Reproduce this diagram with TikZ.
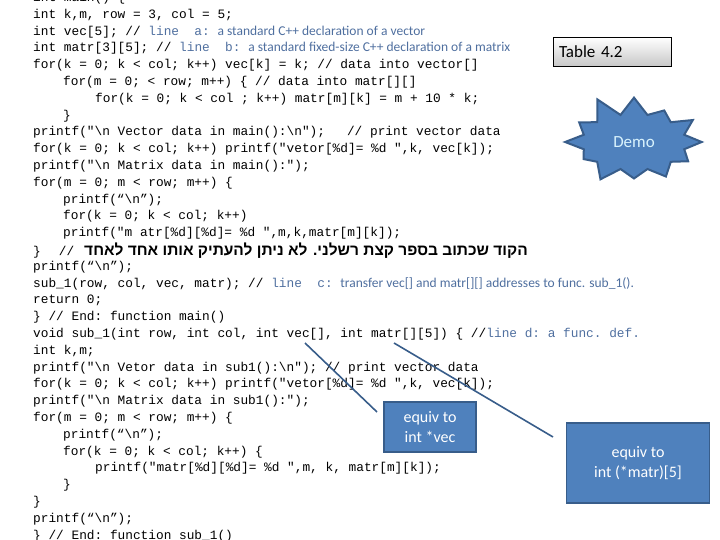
\documentclass[tikz,border=0pt]{standalone}
\usepackage{fontspec}
\setmonofont{Liberation Mono}
\setmainfont{Carlito}
\newfontfamily\hebfont[Script=Hebrew]{Liberation Sans}
\TeXXeTstate=1
\usetikzlibrary{shapes.symbols}
\definecolor{cmt}{HTML}{4F6F9F}
\definecolor{bfill}{HTML}{4F81BD}
\definecolor{bdraw}{HTML}{385D8A}
\newcommand{\bs}{\textbackslash}
\newcommand{\cm}[1]{{\color{cmt}#1}}
\newcommand{\cs}[1]{{\color{cmt}\rmfamily\fontsize{13.5}{15}\selectfont #1}}
\begin{document}
\begin{tikzpicture}[x=1pt,y=-1pt,
  code/.style={anchor=west,inner sep=0pt,font=\ttfamily\fontsize{12.8}{15}\selectfont},
  bluebox/.style={draw=bdraw,line width=1.5pt,fill=bfill,text=white,font=\fontsize{16}{20}\selectfont,align=center,inner sep=0pt},
  link/.style={draw=bdraw,line width=1.6pt}]
\useasboundingbox (0,0) rectangle (720,540);
\newcommand{\Ln}[4]{\node[code] (#1) at (#2,{-1.8+16.8*#3}) {#4};}
\Ln{l0}{33}{0}{int main() \{}
\Ln{l1}{33}{1}{int k,m, row = 3, col = 5;}
\Ln{l2}{33}{2}{int vec[5]; // \cm{line\ \ a:}\ \cs{a standard C++ declaration of a vector}}
\Ln{l3}{33}{3}{int matr[3][5]; // \cm{line\ \ b:}\ \cs{a standard fixed-size C++ declaration of a matrix}}
\Ln{l4}{33}{4}{for(k = 0; k < col; k++) vec[k] = k; // data into vector[]}
\Ln{l5}{63}{5}{for(m = 0; < row; m++) \{ // data into matr[][]}
\Ln{l6}{95}{6}{for(k = 0; k < col ; k++) matr[m][k] = m + 10 * k;}
\Ln{l7}{63}{7}{\}}
\Ln{l8}{33}{8}{printf("\bs n Vector data in main():\bs n");\hspace{22pt}// print vector data}
\Ln{l9}{33}{9}{for(k = 0; k < col; k++) printf("vetor[\%d]= \%d ",k, vec[k]);}
\Ln{l10}{33}{10}{printf("\bs n Matrix data in main():");}
\Ln{l11}{33}{11}{for(m = 0; m < row; m++) \{}
\Ln{l12}{63}{12}{printf(“\bs n”);}
\Ln{l13}{63}{13}{for(k = 0; k < col; k++)}
\Ln{l14}{63}{14}{printf("m atr[\%d][\%d]= \%d ",m,k,matr[m][k]);}
\Ln{l15}{33}{15}{\}\hspace{18pt}//\hspace{10pt}{\hebfont\bfseries\fontsize{15.5}{17}\selectfont\beginR הקוד שכתוב בספר קצת רשלני. לא ניתן להעתיק אותו אחד לאחד\endR}}
\Ln{l16}{33}{16}{printf(“\bs n”);}
\Ln{l17}{33}{17}{sub\_1(row, col, vec, matr); // \cm{line\ \ c:}\ \cs{transfer vec[] and matr[][] addresses to func. sub\_1().}}
\Ln{l18}{33}{18}{return 0;}
\Ln{l19}{33}{19}{\} // End: function main()}
\Ln{l20}{33}{20}{void sub\_1(int row, int col, int vec[], int matr[][5]) \{ //\cm{line d: a func. def.}}
\Ln{l21}{33}{21}{int k,m;}
\Ln{l22}{33}{22}{printf("\bs n Vetor data in sub1():\bs n"); // print vector data}
\Ln{l23}{33}{23}{for(k = 0; k < col; k++) printf("vetor[\%d]= \%d ",k, vec[k]);}
\Ln{l24}{33}{24}{printf("\bs n Matrix data in sub1():");}
\Ln{l25}{33}{25}{for(m = 0; m < row; m++) \{}
\Ln{l26}{63}{26}{printf(“\bs n”);}
\Ln{l27}{63}{27}{for(k = 0; k < col; k++) \{}
\Ln{l28}{95}{28}{printf("matr[\%d][\%d]= \%d ",m, k, matr[m][k]);}
\Ln{l29}{63}{29}{\}}
\Ln{l30}{33}{30}{\}}
\Ln{l31}{33}{31}{printf(“\bs n”);}
\Ln{l32}{33}{32}{\} // End: function sub\_1()}
% boxes
\node[draw=black,line width=0.8pt,top color=white,bottom color=black!22,minimum width=118pt,minimum height=29pt,inner sep=0pt,font=\fontsize{17}{20}\selectfont,text width=106pt,align=left] (tab) at (612,52) {Table 4.2};
\node[starburst,starburst points=12,starburst point height=22pt,random starburst=11,shape border rotate=-15,fill=bfill,draw=bdraw,line width=2pt,minimum width=148pt,minimum height=100pt,inner sep=0pt,text=white!85!cyan,font=\fontsize{17}{20}\selectfont] (demo) at (634,142) {Demo};
\node[bluebox,minimum width=92pt,minimum height=50pt] (bv) at (430,427) {equiv to\\int *vec};
\node[bluebox,minimum width=143pt,minimum height=80pt] (bm) at (638,463) {equiv to\\int (*matr)[5]};
\coordinate (cv) at (305,343);
\coordinate (cm) at (394,343);
\coordinate (ev) at (377,412);
\coordinate (em) at (553,437);
\draw[link] (cv) -- (ev);
\draw[link] (cm) -- (em);
\end{tikzpicture}
\end{document}
